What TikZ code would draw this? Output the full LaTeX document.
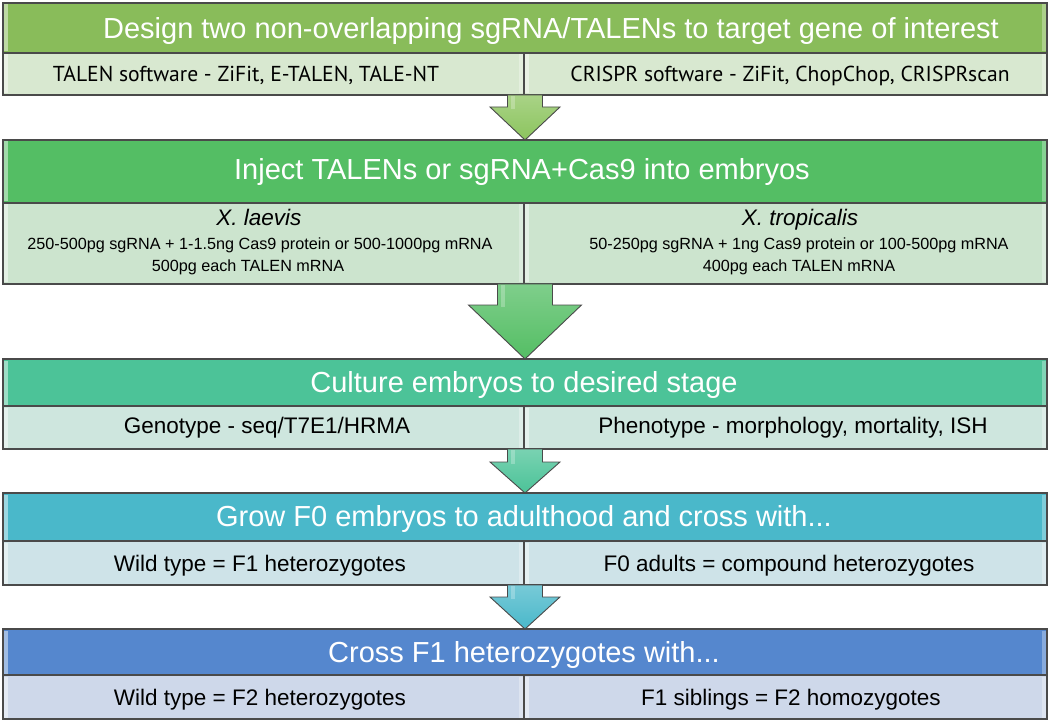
\documentclass[tikz,border=0pt]{standalone}
\usepackage{fontspec}
\setmainfont{Liberation Sans}
\newfontfamily\humfont{PT Sans}
\usetikzlibrary{calc}
\definecolor{edgegray}{HTML}{4A4A4A}
\definecolor{hA}{HTML}{89BC5A}
\definecolor{sA}{HTML}{D8E8D0}
\definecolor{hB}{HTML}{54BE64}
\definecolor{sB}{HTML}{CCE4CE}
\definecolor{hC}{HTML}{4CC398}
\definecolor{sC}{HTML}{CEE6DE}
\definecolor{hD}{HTML}{4AB8CA}
\definecolor{sD}{HTML}{CEE3E8}
\definecolor{hE}{HTML}{5587CE}
\definecolor{sE}{HTML}{CED8EA}
\definecolor{aA}{HTML}{8CC45E}
\tikzset{
  bandbox/.style={draw=edgegray, line width=1.1pt, rectangle, inner sep=0pt, outer sep=0pt},
  htext/.style={text=white, inner sep=0pt, anchor=base, font=\fontsize{29}{31}\selectfont},
  stext/.style={text=black, inner sep=0pt, anchor=base, font=\fontsize{22.5}{24}\selectfont},
  mtext/.style={text=black, inner sep=0pt, anchor=base, font=\fontsize{16.2}{18}\selectfont},
  itext/.style={text=black, inner sep=0pt, anchor=base, font=\fontsize{22.5}{24}\selectfont\itshape},
  ptext/.style={text=black, inner sep=0pt, anchor=base, font=\fontsize{21.6}{24}\humfont},
  arrowline/.style={draw=edgegray, line width=0.9pt, line join=miter}
}
\newcommand{\bevel}[2]{%
  \fill[#2!55!white] ([xshift=1.2pt,yshift=-1.5pt]#1.north west) rectangle ([xshift=5pt,yshift=1.5pt]#1.south west);
  \fill[#2!70!white] ([xshift=-5pt,yshift=-1.5pt]#1.north east) rectangle ([xshift=-1.2pt,yshift=1.5pt]#1.south east);
}
\newcommand{\flowarrow}[6]{%
  \shadedraw[arrowline, top color=#6!75!white, bottom color=#6] let \p1=(#1), \p2=(#2) in
  (\x2-#3,\y1) -- (\x2-#3,\y1-#5) -- (\x2-#4,\y1-#5) -- (\x2,\y2) -- (\x2+#4,\y1-#5) -- (\x2+#3,\y1-#5) -- (\x2+#3,\y1) -- cycle;
  \fill[white, opacity=0.25] let \p1=(#1), \p2=(#2) in
  (\x2-#3+3pt,\y1-1pt) rectangle (\x2-#3+7pt,\y1-#5-2pt);
}
\begin{document}
\begin{tikzpicture}[x=1pt,y=-1pt]
\useasboundingbox (0,0) rectangle (1050,722);
% band 1
\node[bandbox, fill=hA, minimum width=1044pt, minimum height=50pt, anchor=north west] (h1) at (3,3) {};
\node[bandbox, fill=sA, minimum width=521pt, minimum height=42pt, anchor=north west] (l1) at (h1.south west) {};
\node[bandbox, fill=sA, minimum width=523pt, minimum height=42pt, anchor=north east] (r1) at (h1.south east) {};
% band 2
\node[bandbox, fill=hB, minimum width=1044pt, minimum height=63pt, anchor=north west] (h2) at (3,140) {};
\node[bandbox, fill=sB, minimum width=521pt, minimum height=81pt, anchor=north west] (l2) at (h2.south west) {};
\node[bandbox, fill=sB, minimum width=523pt, minimum height=81pt, anchor=north east] (r2) at (h2.south east) {};
% band 3
\node[bandbox, fill=hC, minimum width=1044pt, minimum height=47pt, anchor=north west] (h3) at (3,359) {};
\node[bandbox, fill=sC, minimum width=521pt, minimum height=43pt, anchor=north west] (l3) at (h3.south west) {};
\node[bandbox, fill=sC, minimum width=523pt, minimum height=43pt, anchor=north east] (r3) at (h3.south east) {};
% band 4
\node[bandbox, fill=hD, minimum width=1044pt, minimum height=48pt, anchor=north west] (h4) at (3,493) {};
\node[bandbox, fill=sD, minimum width=521pt, minimum height=44pt, anchor=north west] (l4) at (h4.south west) {};
\node[bandbox, fill=sD, minimum width=523pt, minimum height=44pt, anchor=north east] (r4) at (h4.south east) {};
% band 5
\node[bandbox, fill=hE, minimum width=1044pt, minimum height=46pt, anchor=north west] (h5) at (3,629) {};
\node[bandbox, fill=sE, minimum width=521pt, minimum height=44pt, anchor=north west] (l5) at (h5.south west) {};
\node[bandbox, fill=sE, minimum width=523pt, minimum height=44pt, anchor=north east] (r5) at (h5.south east) {};
% bevels
\bevel{h1}{hA}\bevel{l1}{sA}\bevel{r1}{sA}
\bevel{h2}{hB}\bevel{l2}{sB}\bevel{r2}{sB}
\bevel{h3}{hC}\bevel{l3}{sC}\bevel{r3}{sC}
\bevel{h4}{hD}\bevel{l4}{sD}\bevel{r4}{sD}
\bevel{h5}{hE}\bevel{l5}{sE}\bevel{r5}{sE}
% redraw borders on top of bevels
\foreach \n in {h1,l1,r1,h2,l2,r2,h3,l3,r3,h4,l4,r4,h5,l5,r5}{
  \draw[edgegray, line width=1.1pt] (\n.north west) rectangle (\n.south east);
}
% arrows
\flowarrow{l1.south east}{h2.north}{17.5pt}{35pt}{12pt}{aA}
\flowarrow{l2.south east}{h3.north}{27.5pt}{56.5pt}{21pt}{hB}
\flowarrow{l3.south east}{h4.north}{17.5pt}{35pt}{13pt}{hC}
\flowarrow{l4.south east}{h5.north}{17.5pt}{35pt}{12pt}{hD}
% texts
\node[htext] (th1) at (551,39) {Design two non-overlapping sgRNA/TALENs to target gene of interest};
\node[ptext] (tl1) at (246,82) {TALEN software - ZiFit, E-TALEN, TALE-NT};
\node[ptext] (tr1) at (790,82) {CRISPR software - ZiFit, ChopChop, CRISPRscan};
\node[htext] (th2) at (522,180) {Inject TALENs or sgRNA+Cas9 into embryos};
\node[itext] (tl2a) at (259,226) {X. laevis};
\node[mtext] (tl2b) at (260,250) {250-500pg sgRNA + 1-1.5ng Cas9 protein or 500-1000pg mRNA};
\node[mtext] (tl2c) at (248,272) {500pg each TALEN mRNA};
\node[itext] (tr2a) at (800,226) {X. tropicalis};
\node[mtext] (tr2b) at (799,250) {50-250pg sgRNA + 1ng Cas9 protein or 100-500pg mRNA};
\node[mtext] (tr2c) at (799,272) {400pg each TALEN mRNA};
\node[htext] (th3) at (524,392) {Culture embryos to desired stage};
\node[stext] (tl3) at (267,433) {Genotype - seq/T7E1/HRMA};
\node[stext] (tr3) at (793,433) {Phenotype - morphology, mortality, ISH};
\node[htext] (th4) at (524,526) {Grow F0 embryos to adulthood and cross with...};
\node[stext] (tl4) at (260,571) {Wild type = F1 heterozygotes};
\node[stext] (tr4) at (789,571) {F0 adults = compound heterozygotes};
\node[htext] (th5) at (524,662) {Cross F1 heterozygotes with...};
\node[stext] (tl5) at (260,705) {Wild type = F2 heterozygotes};
\node[stext] (tr5) at (791,705) {F1 siblings = F2 homozygotes};
\end{tikzpicture}
\end{document}
